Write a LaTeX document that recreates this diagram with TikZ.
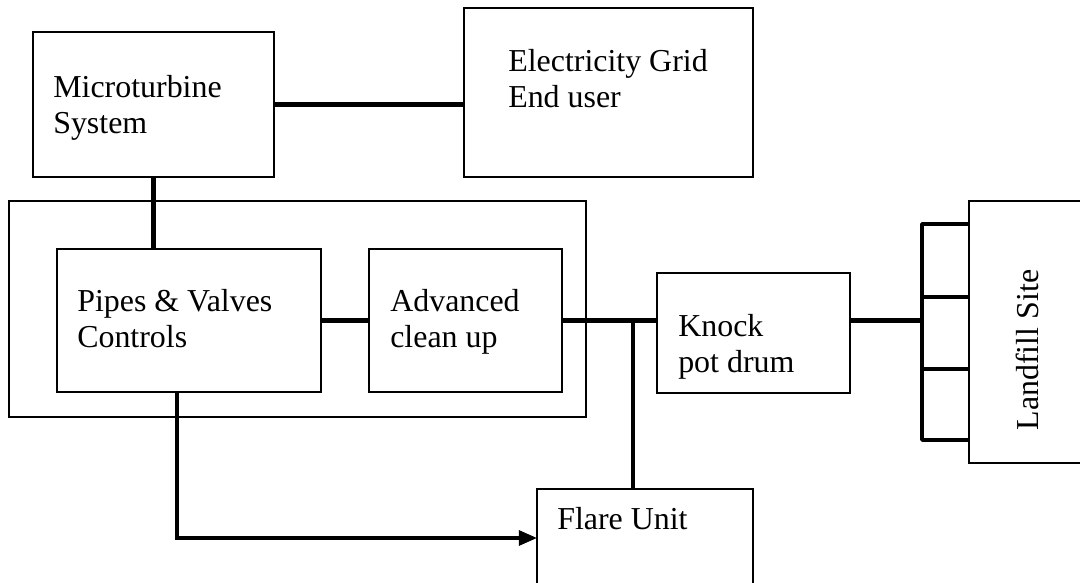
\documentclass[tikz,border=0pt]{standalone}
\usepackage{fontspec}
\setmainfont{Liberation Serif}
\usetikzlibrary{arrows.meta,positioning,calc}

\begin{document}
\begin{tikzpicture}[x=0.025cm, y=-0.025cm,
    box/.style={draw, line width=1.3pt, rectangle, inner sep=0pt, outer sep=0pt},
    lbl/.style={anchor=base west, align=left, inner sep=0pt,
        font=\fontsize{22.7}{26}\selectfont},
    pipe/.style={line width=3.3pt},
    feed/.style={line width=2.4pt}]
    \clip (0,0) rectangle (1080,583);

    % Generation side
    \node[box, minimum width=6.025cm, minimum height=3.625cm] (micro) at (153.5,104.5) {};
    \node[box, minimum width=7.225cm, minimum height=4.225cm] (grid) at (608.5,92.5) {};
    \node[lbl] (microtxt) at (53,134) {Microturbine\\System};
    \node[lbl] (gridtxt) at (508,108) {Electricity Grid\\End user};

    % Treatment skid
    \node[box, minimum width=14.425cm, minimum height=5.4cm] (skid) at (297.5,309) {};
    \node[box, minimum width=6.6cm, minimum height=3.575cm] (pipes) at (189,320.5) {};
    \node[box, minimum width=4.825cm, minimum height=3.575cm] (clean) at (465.5,320.5) {};
    \node[lbl] (pipestxt) at (77,348) {Pipes \& Valves\\Controls};
    \node[lbl] (cleantxt) at (390,348) {Advanced\\clean up};

    % Collection side
    \node[box, minimum width=4.825cm, minimum height=3cm] (knock) at (753.5,333) {};
    \node[box, minimum width=3.775cm, minimum height=6.55cm] (landfill) at (1044.5,332) {};
    \node[box, minimum width=5.4cm, minimum height=2.45cm] (flare) at (645,538) {};
    \node[lbl] (knocktxt) at (678,373) {Knock\\pot drum};
    \node[lbl] (flaretxt) at (557,529) {Flare Unit};
    \node[lbl, anchor=center, rotate=90] (landtxt) at (1027,350) {Landfill Site};

    % Gas lines
    \coordinate (tee) at (633,320.5);
    \coordinate (drain) at (177,392);
    \coordinate (bus) at (922,320.5);
    \draw[pipe] (micro.east) -- (micro.east -| grid.west);
    \draw[pipe] (micro.south) -- (micro.south |- pipes.north);
    \draw[pipe] (pipes.east) -- (clean.west);
    \draw[pipe] (clean.east) -- (clean.east -| knock.west);
    \draw[feed] (tee) -- (tee |- flare.north);
    \draw[feed, -{Triangle[length=0.45cm, width=0.37cm]}] (drain) |- (flare.west);
    \draw[pipe] (knock.east |- bus) -- (bus);

    % Wells into the landfill
    \foreach \i/\ty in {1/224, 2/297, 3/369, 4/440}
        \coordinate (tap\i) at (922,\ty);
    \draw[line width=2.6pt, line join=round] (tap1 -| landfill.west) -- (tap1) -- (tap4) -- (tap4 -| landfill.west);
    \foreach \i in {2,3}
        \draw[feed] (tap\i) -- (tap\i -| landfill.west);
\end{tikzpicture}
\end{document}
